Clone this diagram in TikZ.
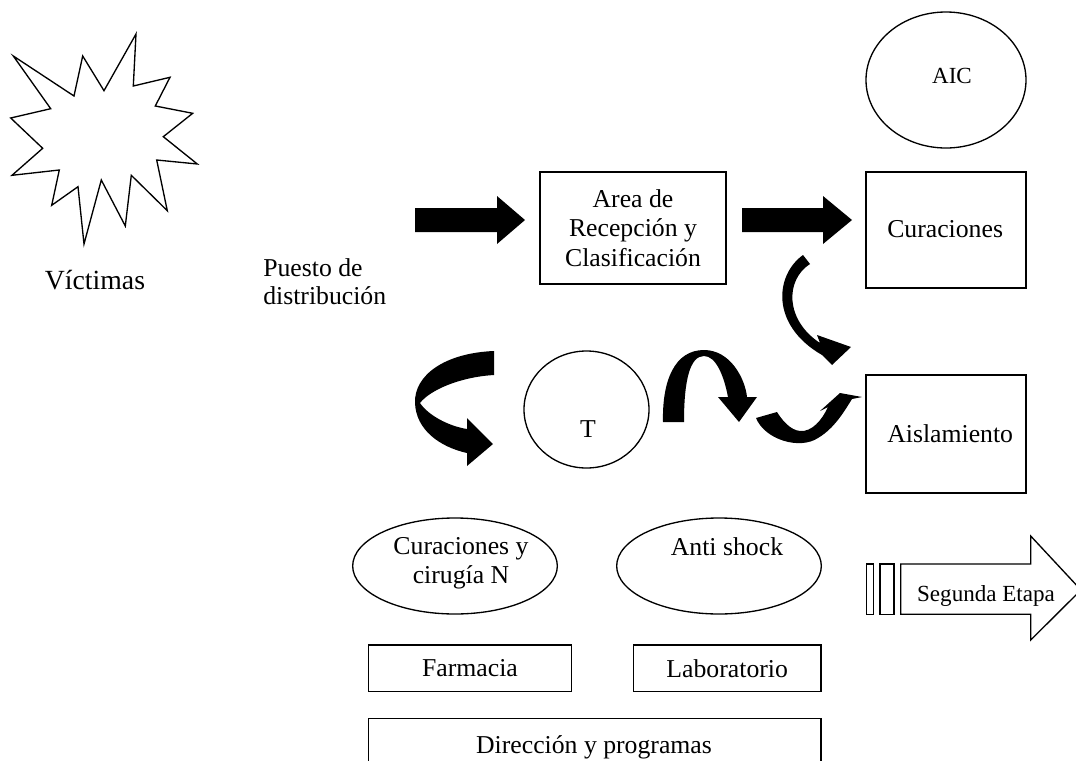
\documentclass[tikz,border=0pt]{standalone}
\usepackage{fontspec}
\setmainfont{Liberation Serif}
\usetikzlibrary{shapes.geometric}
\begin{document}
\begin{tikzpicture}[x=0.75pt,y=-0.75pt,
  box/.style={draw,line width=1pt,rectangle,inner sep=0pt},
  ell/.style={draw,line width=1pt,ellipse,inner sep=0pt},
  txt/.style={inner sep=0pt,font=\fontsize{19.3}{22}\selectfont},
  small/.style={inner sep=0pt,font=\fontsize{17.3}{20}\selectfont},
  big/.style={inner sep=0pt,font=\fontsize{20.8}{24}\selectfont},
  outl/.style={draw,line width=1pt,line join=miter},
  blk/.style={fill=black}]
\useasboundingbox (0,0) rectangle (1076,761);

% starburst (victims)
\draw[outl] (13.3,56) -- (74,96) -- (82.7,56) -- (104,90.7) -- (136,34) -- (133.3,86)
  -- (170,77.3) -- (155.3,106) -- (192.7,113.3) -- (163.3,136.7) -- (197.3,164)
  -- (156.7,160) -- (167.3,210.7) -- (131.3,175.3) -- (125.3,226) -- (101.3,180)
  -- (84,244) -- (78,186.7) -- (51.7,205.3) -- (59.3,170) -- (12,175.3)
  -- (42.7,148.3) -- (10.7,118) -- (50.7,108.7) -- cycle;
\node[big,anchor=base] (vic) at (95,289) {Víctimas};

\node[txt,anchor=west,align=left,font=\fontsize{19.3}{21}\selectfont] (pue) at (263,282) {Puesto de\\distribución};

% boxes and ellipses
\node[box,txt,align=center,font=\fontsize{19.3}{22.1}\selectfont,
      minimum width=139.5pt,minimum height=84pt] (area) at (633,228) {Area de\\Recepción y\\Clasificación};

\node[ell,minimum width=120pt,minimum height=102pt] (aic) at (946,80) {};
\node[small,anchor=base] (aict) at (952,83) {AIC};

\node[box,minimum width=120pt,minimum height=87pt] (cur) at (946,230) {};
\node[txt,anchor=base west] (curt) at (887,237) {Curaciones};

\node[box,minimum width=120pt,minimum height=88.5pt] (ais) at (946,434) {};
\node[txt,anchor=base west] (aist) at (887,442) {Aislamiento};

\node[ell,minimum width=93.75pt,minimum height=87.75pt] (t) at (586.5,409.5) {};
\node[txt,anchor=base] (tt) at (588,437) {T};

\node[ell,minimum width=153.5pt,minimum height=72pt] (cir) at (455,566) {};
\node[txt,align=center,font=\fontsize{19.3}{22}\selectfont] (cirt) at (461,563) {Curaciones y\\cirugía N};

\node[ell,minimum width=153.5pt,minimum height=72pt] (ant) at (719,566) {};
\node[txt,anchor=base] (antt) at (727,555) {Anti shock};

\node[box,txt,minimum width=152.5pt,minimum height=35pt] (far) at (470,668.3) {Farmacia};
\node[box,txt,minimum width=140.8pt,minimum height=35pt] (lab) at (727.2,668.3) {Laboratorio};
\node[box,minimum width=339.5pt,minimum height=42.5pt] (dir) at (594.7,746.7) {};
\node[txt,anchor=base] (dirt) at (594,753) {Dirección y programas};

% straight block arrows
\fill[blk] (415,208) -- (497,208) -- (497,196) -- (525,220) -- (497,244) -- (497,232) -- (415,232) -- cycle;
\fill[blk] (742,208) -- (823,208) -- (823,196) -- (852,220) -- (823,244) -- (823,232) -- (742,232) -- cycle;

% curved arrow left of T
\fill[blk] (494,351) .. controls (445,353) and (414,375) .. (415,403)
  .. controls (416,430) and (440,447) .. (467,453) -- (467,466) -- (493,444) -- (467,418) -- (467,429)
  .. controls (448,426) and (428,415) .. (420,403)
  .. controls (430,390) and (460,377) .. (494,375) -- cycle;

% arch arrow right of T
\fill[blk] (663,422) .. controls (662,380) and (675,350) .. (704,350)
  .. controls (730,350) and (745,378) .. (747,397) -- (757,397) -- (739,422) -- (718,397) -- (728,397)
  .. controls (724,376) and (716,356) .. (704,356)
  .. controls (690,356) and (684,380) .. (684,422) -- cycle;

% arrow from Curaciones down to Aislamiento
\fill[blk] (803,255) .. controls (775,275) and (770,325) .. (822,355) -- (832,365) -- (851,347) -- (817,335) -- (820,343)
  .. controls (785,320) and (785,280) .. (810,264) -- cycle;

% arrow curving up to Aislamiento
\fill[blk] (756,418) .. controls (765,440) and (800,450) .. (818,438)
  .. controls (835,428) and (845,410) .. (852,399) -- (862,397) -- (840,393) -- (820,411) -- (828,407)
  .. controls (822,420) and (812,432) .. (800,431)
  .. controls (790,430) and (782,420) .. (777,412) -- cycle;

% Segunda Etapa striped arrow
\draw[outl] (866.7,564) rectangle (873.3,614.3);
\draw[outl] (880,564) rectangle (894,614.3);
\draw[outl] (900.7,564) -- (1030.7,564) -- (1030.7,536) -- (1081,590) -- (1030.7,640) -- (1030.7,614.3) -- (900.7,614.3) -- cycle;
\node[small,anchor=base] (seg) at (986,601) {Segunda Etapa};
\end{tikzpicture}
\end{document}
